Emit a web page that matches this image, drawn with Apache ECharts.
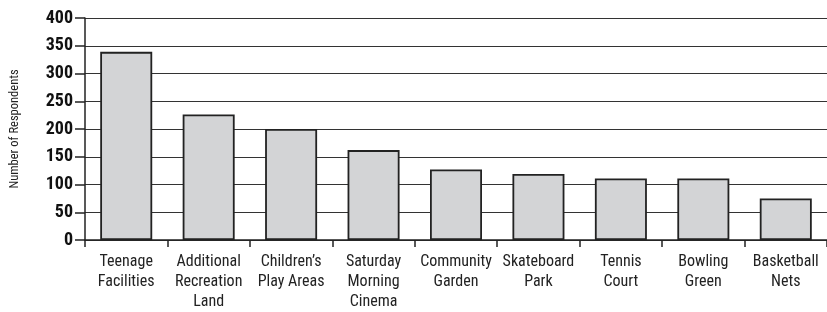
<!DOCTYPE html>
<html>
<head>
<meta charset="utf-8">
<script src="https://cdn.jsdelivr.net/npm/echarts@6/dist/echarts.min.js"></script>
<style>
  html, body { margin: 0; padding: 0; background: #fff; }
  #chart { width: 827px; height: 312px; }
</style>
</head>
<body>
<div id="chart"></div>
<script>
const categories = [
    'Teenage\nFacilities',
    'Additional\nRecreation\nLand',
    'Children\u2019s\nPlay Areas',
    'Saturday\nMorning\nCinema',
    'Community\nGarden',
    'Skateboard\nPark',
    'Tennis\nCourt',
    'Bowling\nGreen',
    'Basketball\nNets'
]
const respondents = [339, 226, 200, 162, 127, 119, 111, 111, 75]
const yTicks = [0, 50, 100, 150, 200, 250, 300, 350, 400]

const narrow = '"Liberation Sans Narrow", "Arial Narrow", "Roboto Condensed", Roboto, sans-serif'

const chart = echarts.init(document.getElementById('chart'))
chart.setOption({
    animation: false,
    grid: {
        left: 85,
        top: 18,
        width: 748,
        height: 223
    },
    xAxis: {
        type: 'category',
        data: categories,
        axisLine: { lineStyle: { color: '#222', width: 1.5 } },
        axisTick: { show: true, length: 7, lineStyle: { color: '#222', width: 1.5 } },
        axisLabel: {
            color: '#222',
            fontFamily: narrow,
            fontSize: 16,
            lineHeight: 20,
            margin: 12,
            interval: 0
        }
    },
    yAxis: {
        type: 'value',
        min: yTicks[0],
        max: yTicks[yTicks.length - 1],
        interval: 50,
        name: 'Number of Respondents',
        nameLocation: 'middle',
        nameRotate: 90,
        nameGap: 64,
        nameTextStyle: { color: '#222', fontFamily: narrow, fontSize: 12.5 },
        axisLine: { show: true, lineStyle: { color: '#222', width: 1.5 } },
        axisTick: { show: true, length: 10, lineStyle: { color: '#222', width: 1.5 } },
        splitLine: { lineStyle: { color: '#333', width: 1.2 } },
        axisLabel: {
            color: '#111',
            fontFamily: narrow,
            fontWeight: 'bold',
            fontSize: 18,
            margin: 12
        }
    },
    series: [{
        type: 'bar',
        data: respondents,
        barWidth: 52,
        itemStyle: {
            color: '#d3d4d6',
            borderColor: '#222',
            borderWidth: 1.8
        }
    }]
})
</script>
</body>
</html>
